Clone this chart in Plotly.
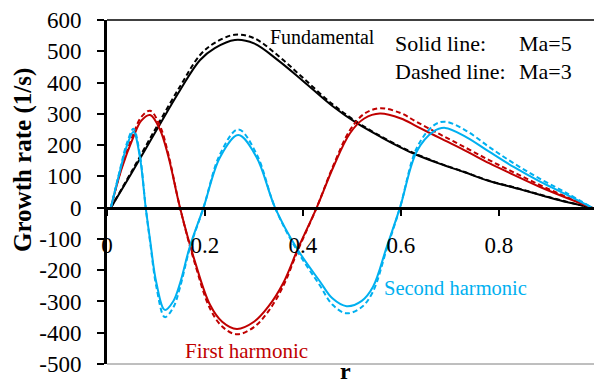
import plotly.graph_objects as go

# ---------------- data ----------------
r_fund = [0.008, 0.05, 0.10, 0.15, 0.19, 0.22, 0.261, 0.30, 0.35, 0.40, 0.46, 0.51,
          0.56, 0.60, 0.63, 0.68, 0.73, 0.78, 0.84, 0.89, 0.94, 0.99]
fund_ma5 = [0, 110, 245, 378, 472, 510, 536, 525, 470, 405, 325, 270,
            225, 192, 170, 140, 113, 85, 60, 38, 17, 0]
fund_ma3 = [0, 115, 255, 390, 488, 527, 553, 542, 485, 415, 331, 274,
            227, 194, 172, 141, 114, 86, 61, 39, 18, 0]

r_first = [0.008, 0.03, 0.053, 0.07, 0.088, 0.108, 0.125, 0.149, 0.18, 0.21, 0.235,
           0.265, 0.30, 0.33, 0.36, 0.39, 0.428, 0.462, 0.496, 0.525, 0.557, 0.60,
           0.632, 0.68, 0.734, 0.78, 0.83, 0.884, 0.94, 0.99]
first_ma5 = [0, 125, 222, 278, 296, 250, 165, 0, -175, -310, -365,
             -388, -365, -315, -240, -130, 0, 130, 238, 285, 301, 285,
             260, 222, 180, 142, 105, 66, 30, 0]
first_ma3 = [0, 130, 232, 290, 310, 262, 172, 0, -182, -322, -380,
             -405, -382, -330, -250, -135, 0, 135, 248, 300, 318, 302,
             274, 234, 190, 152, 113, 72, 33, 0]

r_second = [0.008, 0.027, 0.04, 0.054, 0.067, 0.079, 0.088, 0.101, 0.118, 0.135,
            0.149, 0.169, 0.197, 0.231, 0.268, 0.305, 0.343, 0.387, 0.435, 0.46,
            0.489, 0.52, 0.543, 0.571, 0.598, 0.632, 0.666, 0.690, 0.734, 0.78,
            0.83, 0.884, 0.94, 0.99]
second_ma5 = [0, 120, 195, 243, 163, 0, -104, -242, -327, -300,
              -242, -125, 0, 162, 232, 162, 0, -129, -237, -290,
              -315, -298, -253, -125, 0, 179, 243, 255, 225, 179,
              130, 83, 40, 0]
second_ma3 = [0, 125, 203, 252, 170, 0, -110, -255, -350, -320,
              -255, -130, 0, 172, 250, 172, 0, -135, -250, -310,
              -338, -318, -268, -132, 0, 190, 262, 275, 245, 194,
              142, 92, 45, 0]

x_ticks = [0, 0.2, 0.4, 0.6, 0.8]
x_ticktext = ["0", "0.2", "0.4", "0.6", "0.8"]
y_ticks = [-500, -400, -300, -200, -100, 0, 100, 200, 300, 400, 500, 600]
y_ticktext = ["-500", "-400", "-300", "-200", "-100", "0", "100", "200", "300",
              "400", "500", "600"]

BLACK = "#000000"
RED = "#C00000"
BLUE = "#00B0F0"
FONT = "Liberation Serif"

fig = go.Figure()

def add(r, g, color, dashed):
    fig.add_trace(go.Scatter(
        x=r, y=g, mode="lines",
        line=dict(color=color, width=2, shape="spline", smoothing=1.0,
                  dash="5px,3px" if dashed else "solid"),
        showlegend=False, hoverinfo="skip"))

add(r_fund, fund_ma3, BLACK, True)
add(r_fund, fund_ma5, BLACK, False)
add(r_first, first_ma3, RED, True)
add(r_first, first_ma5, RED, False)
add(r_second, second_ma3, BLUE, True)
add(r_second, second_ma5, BLUE, False)

Y0, Y1 = -500, 600
fig.update_layout(
    width=594, height=385,
    margin=dict(l=107, r=0, t=20, b=21),
    paper_bgcolor="white", plot_bgcolor="white",
    xaxis=dict(range=[0, 0.994], anchor="free", position=(0 - Y0) / (Y1 - Y0),
               showline=True, linecolor="black", linewidth=2.5,
               ticks="outside", ticklen=7, tickwidth=2, tickcolor="black",
               tickvals=x_ticks, ticktext=x_ticktext,
               tickfont=dict(family=FONT, size=23, color="black"),
               ticklabelstandoff=9,
               showgrid=False, zeroline=False),
    yaxis=dict(range=[Y0, Y1], showline=True, linecolor="black", linewidth=3,
               ticks="outside", ticklen=7, tickwidth=2, tickcolor="black",
               tickvals=y_ticks, ticktext=y_ticktext,
               tickfont=dict(family=FONT, size=23, color="black"),
               ticklabelstandoff=11,
               showgrid=False, zeroline=False),
    shapes=[
        dict(type="line", xref="paper", yref="paper", x0=0, x1=1, y0=1, y1=1,
             line=dict(color="black", width=1.5)),
        dict(type="line", xref="paper", yref="paper", x0=0, x1=1, y0=0, y1=0,
             line=dict(color="#7f7f7f", width=1)),
    ],
)

def note(text, x, y, color="black", size=21, **kw):
    fig.add_annotation(text=text, x=x, y=y, xref="x", yref="y",
                       xanchor="left", yanchor="middle", showarrow=False,
                       font=dict(family=FONT, size=size, color=color), **kw)

note("Fundamental", 0.329, 546, size=20)
note("Solid line:", 0.584, 526, size=22)
note("Ma=5", 0.837, 526, size=22)
note("Dashed line:", 0.584, 434, size=22)
note("Ma=3", 0.837, 434, size=22)
note("First harmonic", 0.155, -459, color=RED)
note("Second harmonic", 0.561, -257, color=BLUE, size=20.5)

fig.add_annotation(text="<b>Growth rate (1/s)</b>", xref="paper", yref="paper",
                   x=(23 - 107) / 487, y=(364 - 160) / 344, textangle=-90,
                   xanchor="center", yanchor="middle", showarrow=False,
                   font=dict(family=FONT, size=25, color="black"))
fig.add_annotation(text="<b>r</b>", xref="paper", yref="paper",
                   x=(345 - 107) / 487, y=(364 - 386) / 344,
                   xanchor="center", yanchor="bottom", showarrow=False,
                   font=dict(family=FONT, size=24, color="black"))

fig.write_html("out.html")
